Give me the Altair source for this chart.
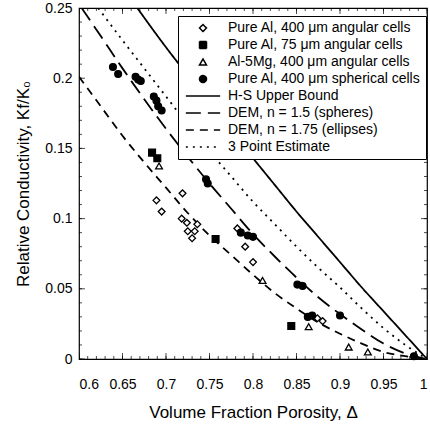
import altair as alt
import pandas as pd

# ---------------- data ----------------
SERIES = [
    "Pure Al, 400 μm angular cells",
    "Pure Al, 75 μm angular cells",
    "Al-5Mg, 400 μm angular cells",
    "Pure Al, 400 μm spherical cells",
    "H-S Upper Bound",
    "DEM, n = 1.5  (spheres)",
    "DEM, n = 1.75 (ellipses)",
    "3 Point Estimate",
]

ang400_D = [0.689, 0.695, 0.719, 0.718, 0.724, 0.736, 0.725, 0.733, 0.730, 0.782, 0.791, 0.800, 0.874, 0.880]
ang400_K = [0.113, 0.105, 0.118, 0.100, 0.097, 0.096, 0.091, 0.091, 0.086, 0.093, 0.080, 0.069, 0.029, 0.027]

ang75_D = [0.684, 0.690, 0.757, 0.844]
ang75_K = [0.147, 0.143, 0.0855, 0.0235]

mg_D = [0.692, 0.811, 0.864, 0.910, 0.932]
mg_K = [0.1375, 0.056, 0.023, 0.0085, 0.005]

sph_D = [0.639, 0.645, 0.665, 0.668, 0.671, 0.686, 0.689, 0.691, 0.695, 0.746, 0.748,
         0.786, 0.794, 0.800, 0.851, 0.857, 0.863, 0.868, 0.900, 0.985]
sph_K = [0.208, 0.203, 0.201, 0.199, 0.198, 0.187, 0.184, 0.180, 0.177, 0.128, 0.125,
         0.090, 0.088, 0.087, 0.053, 0.052, 0.030, 0.031, 0.031, 0.002]

hs_D = [0.667, 0.7, 0.725, 0.75, 0.775, 0.8, 0.825, 0.85, 0.875, 0.9, 0.925, 0.95, 0.975, 1.0]
hs_K = [0.25, 0.222, 0.202, 0.182, 0.162, 0.143, 0.124, 0.105, 0.087, 0.069, 0.051, 0.034, 0.017, 0.0]

dem15_D = [0.603, 0.625, 0.65, 0.675, 0.7, 0.725, 0.75, 0.775, 0.8, 0.825, 0.85, 0.875, 0.9, 0.925, 0.95, 0.975, 1.0]
dem15_K = [0.25, 0.230, 0.207, 0.185, 0.164, 0.144, 0.125, 0.107, 0.089, 0.073, 0.058, 0.044, 0.032, 0.021, 0.011, 0.004, 0.0]

dem175_D = [0.6, 0.625, 0.65, 0.675, 0.7, 0.725, 0.75, 0.775, 0.8, 0.825, 0.85, 0.875, 0.9, 0.925, 0.95, 0.975, 1.0]
dem175_K = [0.201, 0.180, 0.159, 0.140, 0.122, 0.104, 0.088, 0.074, 0.060, 0.047, 0.036, 0.026, 0.018, 0.011, 0.005, 0.002, 0.0]

tp_D = [0.622, 0.65, 0.675, 0.7, 0.725, 0.75, 0.775, 0.8, 0.825, 0.85, 0.875, 0.9, 0.925, 0.95, 0.975, 1.0]
tp_K = [0.25, 0.227, 0.207, 0.187, 0.167, 0.148, 0.130, 0.112, 0.096, 0.080, 0.065, 0.051, 0.036, 0.022, 0.010, 0.0]

x_major = [0.6, 0.65, 0.7, 0.75, 0.8, 0.85, 0.9, 0.95, 1.0]
y_major = [0, 0.05, 0.1, 0.15, 0.2, 0.25]
x_minor = [round(0.6 + 0.01 * i, 2) for i in range(41)]
y_minor = [round(0.01 * i, 2) for i in range(26)]

# ---------------- tables ----------------
pts = pd.concat([
    pd.DataFrame({"D": ang400_D, "K": ang400_K, "series": SERIES[0]}),
    pd.DataFrame({"D": ang75_D, "K": ang75_K, "series": SERIES[1]}),
    pd.DataFrame({"D": mg_D, "K": mg_K, "series": SERIES[2]}),
    pd.DataFrame({"D": sph_D, "K": sph_K, "series": SERIES[3]}),
], ignore_index=True)

lines = pd.concat([
    pd.DataFrame({"D": hs_D, "K": hs_K, "series": SERIES[4]}),
    pd.DataFrame({"D": dem15_D, "K": dem15_K, "series": SERIES[5]}),
    pd.DataFrame({"D": dem175_D, "K": dem175_K, "series": SERIES[6]}),
    pd.DataFrame({"D": tp_D, "K": tp_K, "series": SERIES[7]}),
], ignore_index=True)

FONT = "Liberation Sans"
xs = alt.Scale(domain=[0.6, 1.0], nice=False, zero=False)
ys = alt.Scale(domain=[0, 0.25], nice=False)

LINE_PATH = "M-4.9,0H4.9"
shape_scale = alt.Scale(domain=SERIES, range=["diamond", "square", "triangle-up", "circle",
                                              LINE_PATH, LINE_PATH, LINE_PATH, LINE_PATH])
fill_scale = alt.Scale(domain=SERIES, range=["white", "black", "white", "black",
                                             "transparent", "transparent", "transparent", "transparent"])
stroke_scale = alt.Scale(domain=SERIES, range=["black"] * 8)
dash_scale = alt.Scale(domain=SERIES, range=[[1, 0], [1, 0], [1, 0], [1, 0],
                                             [1, 0], [15, 7], [8, 6], [2, 5]])

legend = alt.Legend(
    title=None, orient="none", legendX=99, legendY=8,
    labelFont=FONT, labelFontSize=14, labelColor="black", labelLimit=400,
    symbolSize=49, symbolStrokeColor="black", symbolStrokeWidth=1.5,
    symbolOffset=13, labelOffset=18, rowPadding=3, padding=5,
    strokeColor="black", fillColor="white",
)

main_x = alt.Axis(values=x_major, format="~g", ticks=False, domain=False, grid=False,
                  labelFont=FONT, labelFontSize=14, labelColor="black", labelPadding=18,
                  title="Volume Fraction Porosity, Δ", titleFont=FONT, titleFontSize=17,
                  titleFontWeight="normal", titleColor="black", titlePadding=13)
main_y = alt.Axis(values=y_major, format="~g", ticks=False, domain=False, grid=False,
                  labelFont=FONT, labelFontSize=14, labelColor="black", labelPadding=7,
                  title="Relative Conductivity, Kf/K₀", titleFont=FONT, titleFontSize=17,
                  titleFontWeight="normal", titleColor="black", titlePadding=12)

line_layer = alt.Chart(lines).mark_line(strokeWidth=1.8, clip=True, interpolate="monotone").encode(
    x=alt.X("D:Q", scale=xs, axis=main_x),
    y=alt.Y("K:Q", scale=ys, axis=main_y),
    stroke=alt.Stroke("series:N", scale=stroke_scale, legend=legend, sort=SERIES),
    strokeDash=alt.StrokeDash("series:N", scale=dash_scale, legend=legend, sort=SERIES),
    detail="series:N",
)

point_layer = alt.Chart(pts).mark_point(filled=True, strokeWidth=1.3, size=46, opacity=1).encode(
    x=alt.X("D:Q", scale=xs, axis=main_x),
    y=alt.Y("K:Q", scale=ys, axis=main_y),
    shape=alt.Shape("series:N", scale=shape_scale, legend=legend, sort=SERIES),
    fill=alt.Fill("series:N", scale=fill_scale, legend=legend, sort=SERIES),
    stroke=alt.Stroke("series:N", scale=stroke_scale, legend=legend, sort=SERIES),
)

xmaj = pd.DataFrame({"D": x_major})
xmin = pd.DataFrame({"D": x_minor})
ymaj = pd.DataFrame({"K": y_major})
ymin = pd.DataFrame({"K": y_minor})


def xticks(df, at, size):
    return alt.Chart(df).mark_tick(orient="vertical", size=size, thickness=1, color="black", clip=True).encode(
        x=alt.X("D:Q", scale=xs, axis=main_x),
        y=alt.YDatum(at, scale=ys, axis=main_y),
    )


def yticks(df, at, size):
    return alt.Chart(df).mark_tick(orient="horizontal", size=size, thickness=1, color="black", clip=True).encode(
        y=alt.Y("K:Q", scale=ys, axis=main_y),
        x=alt.XDatum(at, scale=xs, axis=main_x),
    )


chart = alt.layer(
    line_layer,
    point_layer,
    xticks(xmaj, 0, 12), xticks(xmaj, 0.25, 12),
    xticks(xmin, 0, 6), xticks(xmin, 0.25, 6),
    yticks(ymaj, 0.6, 12), yticks(ymaj, 1.0, 12),
    yticks(ymin, 0.6, 6), yticks(ymin, 1.0, 6),
).properties(
    width=348, height=351,
    autosize=alt.AutoSizeParams(type="none"),
    padding={"left": 79, "top": 8, "right": 3, "bottom": 71},
    background="white",
).configure_view(stroke="black", strokeWidth=1.2)

chart.save("out.html", embed_options={"renderer": "svg", "actions": False})
